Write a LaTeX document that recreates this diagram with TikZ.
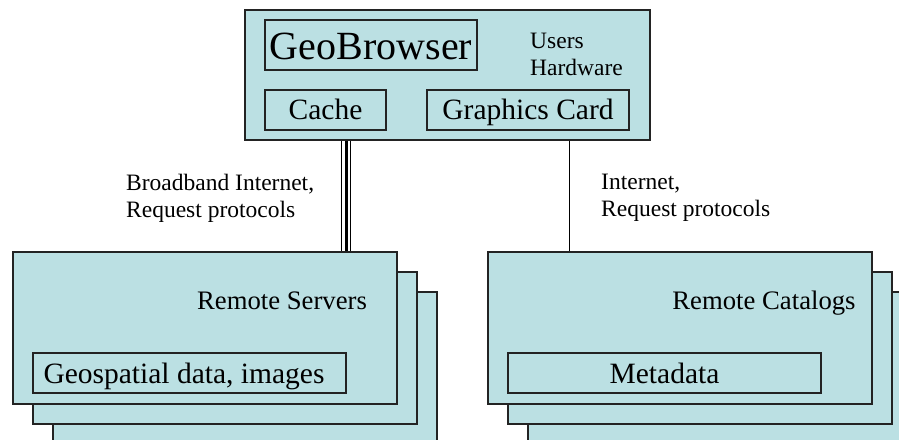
\documentclass[tikz,border=0pt]{standalone}
\usepackage{fontspec}
\setmainfont{Liberation Serif}
\definecolor{boxfill}{RGB}{187,224,227}
\definecolor{boxline}{RGB}{35,35,35}
\begin{document}
\begin{tikzpicture}[x=1pt,y=-1pt,
  panel/.style={draw=boxline,fill=boxfill,line width=1.1pt,inner sep=0pt,
    minimum width=#1, rectangle},
  inbox/.style={draw=boxline,line width=1.1pt,inner sep=0pt,rectangle},
  f40/.style={font=\fontsize{40}{44}\selectfont},
  f30/.style={font=\fontsize{29.5}{33}\selectfont},
  f27/.style={font=\fontsize{26.7}{30}\selectfont},
  f23/.style={font=\fontsize{23.5}{27}\selectfont, align=left},
]
\useasboundingbox (0,0) rectangle (899,439);
\clip (0,0) rectangle (899,439);

% client machine
\node[panel=405pt, minimum height=130pt] (top) at (447.5,75) {};
\node[inbox, minimum width=212pt, minimum height=50pt] (geo) at (371,45) {};
\node[f40, anchor=base] at (371,59) {GeoBrowser};
\node[inbox, minimum width=121pt, minimum height=40pt] (cache) at (325.5,110) {};
\node[f30, anchor=base] at (325.5,119) {Cache};
\node[inbox, minimum width=202pt, minimum height=40pt] (gpu) at (528,110) {};
\node[f30, anchor=base] at (528,119) {Graphics Card};
\node[f23, anchor=north west, inner sep=0pt] (hw) at (530,33) {Users\\Hardware};

% remote servers, stacked
\foreach \k in {2,1,0}{
  \node[panel=384pt, minimum height=152pt] (srv\k) at (205+20*\k,328+20*\k) {};
}
\node[f27, anchor=base] at (282,309) {Remote Servers};
\node[inbox, minimum width=313pt, minimum height=40pt] (geodata) at (189.5,373) {};
\node[f30, anchor=base] at (184,383) {Geospatial data, images};

% remote catalogs, stacked
\foreach \k in {2,1,0}{
  \node[panel=384pt, minimum height=152pt] (cat\k) at (680+20*\k,328+20*\k) {};
}
\node[f27, anchor=base] at (764,309) {Remote Catalogs};
\node[inbox, minimum width=313pt, minimum height=40pt] (meta) at (664.5,373) {};
\node[f30, anchor=base] at (664.5,383) {Metadata};

% links
\draw[line width=3pt] ([xshift=-101.5pt]top.south) -- ([xshift=-101.5pt]top.south |- srv0.north);
\draw[line width=0.9pt] ([xshift=-106pt]top.south) -- ([xshift=-106pt]top.south |- srv0.north);
\draw[line width=0.9pt] ([xshift=-97.5pt]top.south) -- ([xshift=-97.5pt]top.south |- srv0.north);
\draw[line width=0.9pt] ([xshift=121.5pt]top.south) -- ([xshift=121.5pt]top.south |- cat0.north);

\node[f23, anchor=north west, inner sep=0pt] (l1) at (126,174) {Broadband Internet,\\Request protocols};
\node[f23, anchor=north west, inner sep=0pt] (l2) at (601,174) {Internet,\\Request protocols};
\end{tikzpicture}
\end{document}
